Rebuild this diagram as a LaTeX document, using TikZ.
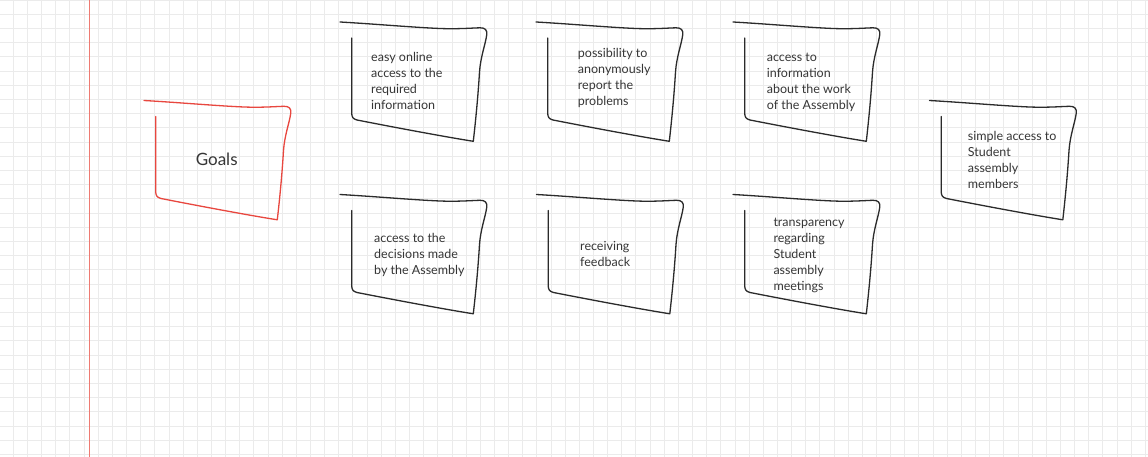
\documentclass[tikz,border=0pt]{standalone}
\usepackage{fontspec}
\setmainfont{Lato}
\definecolor{ink}{HTML}{2B2B2B}
\definecolor{redink}{HTML}{E8473F}
\definecolor{marginred}{HTML}{EE7A72}
\definecolor{gridc}{HTML}{EBEBEB}
\definecolor{textgray}{HTML}{363636}
\begin{document}
\begin{tikzpicture}[x=1pt,y=-1pt,
  gridline/.style={draw=gridc,line width=0.9pt},
  sketch/.pic={
    \draw[line width=1.3pt,line cap=round,line join=round]
      (0,0) .. controls (35,2) and (75,5.5) .. (100,6.5)
      .. controls (118,7.2) and (132,6) .. (140,5.8)
      .. controls (145,5.7) and (147.5,8) .. (146.7,13)
      .. controls (145.5,22) and (140.5,35) .. (139.5,50)
      .. controls (138,75) and (135.5,100) .. (133.3,119.3)
      .. controls (100,114) and (45,103.5) .. (17,98)
      .. controls (13,97) and (11.7,95) .. (11.7,91)
      -- (11.7,16);
  },
  txt/.style={anchor=base west,align=left,text=textgray,inner sep=0pt,
    font=\fontsize{12.5}{16}\selectfont},
  goaltxt/.style={anchor=base,text=textgray,inner sep=0pt,
    font=\fontsize{17}{20}\selectfont}]
\useasboundingbox (0,0) rectangle (1148,457);
\fill[white] (0,0) rectangle (1148,457);
% grid
\foreach \i in {-1,...,80} \draw[gridline] ({13.3+\i*14.15},0) -- ++(0,457);
\foreach \i in {0,...,32} \draw[gridline] (0,{0.1+\i*14.2}) -- ++(1148,0);
% margin line
\fill[marginred] (88.7,0) rectangle (89.9,457);
% boxes
\pic[color=redink] (goalsbox) at (144,100.5) {sketch};
\pic[color=ink] (b1) at (340,22) {sketch};
\pic[color=ink] (b2) at (536,22) {sketch};
\pic[color=ink] (b3) at (733,22) {sketch};
\pic[color=ink] (b4) at (929.5,100.5) {sketch};
\pic[color=ink] (b5) at (340,194.5) {sketch};
\pic[color=ink] (b6) at (536.5,194.5) {sketch};
\pic[color=ink] (b7) at (733,194.5) {sketch};
% texts (anchor = baseline of last line)
\node[goaltxt] (goals) at (216.7,166) {Goals};
\node[txt] (t1) at (371,109.3) {easy online\\access to the\\required\\information};
\node[txt] (t2) at (577.7,105.3) {possibility to\\anonymously\\report the\\problems};
\node[txt] (t3) at (766.7,109.3) {access to\\information\\about the work\\of the Assembly};
\node[txt] (t4) at (967.7,188.3) {simple access to\\Student\\assembly\\members};
\node[txt] (t5) at (374,274.3) {access to the\\decisions made\\by the Assembly};
\node[txt] (t6) at (580,266.3) {receiving\\feedback};
\node[txt] (t7) at (773.3,290) {transparency\\regarding\\Student\\assembly\\meetings};
\end{tikzpicture}
\end{document}
